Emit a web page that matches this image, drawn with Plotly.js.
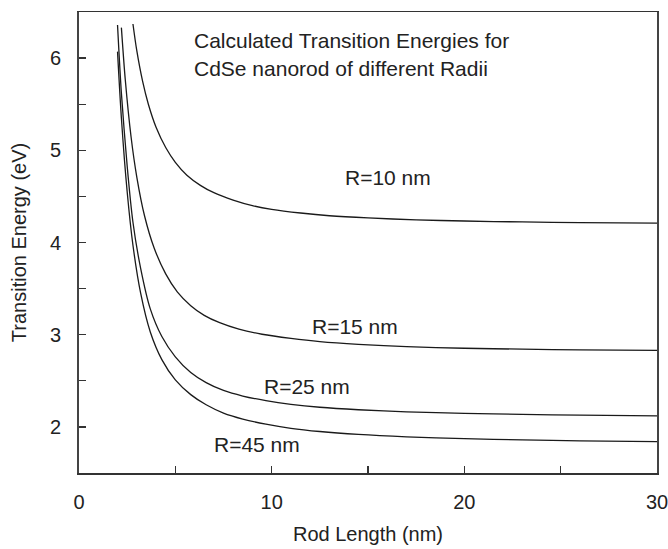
<!DOCTYPE html>
<html>
<head>
<meta charset="utf-8">
<script src="https://cdn.plot.ly/plotly-3.0.1.min.js"></script>
<style>html,body{margin:0;padding:0;background:#fff;}</style>
</head>
<body>
<div id="chart" style="width:668px;height:549px;"></div>
<script>
// Rod length (nm) and transition energy (eV) for each radius
const lenR10 = [2.8, 3.0, 3.3, 3.6, 4.0, 4.5, 5.0, 5.6, 6.3, 7.0, 8.0, 9.0, 10, 11.5, 13, 15, 17.5, 20, 23, 26, 30];
const eR10   = [6.37, 6.08, 5.75, 5.50, 5.25, 5.03, 4.87, 4.73, 4.62, 4.54, 4.46, 4.40, 4.36, 4.32, 4.29, 4.266, 4.246, 4.233, 4.223, 4.216, 4.21];

const lenR15 = [2.2, 2.4, 2.7, 3.0, 3.4, 3.9, 4.5, 5.1, 5.8, 6.5, 7.3, 8.3, 9.5, 11, 12.5, 14.5, 17, 20, 23, 26, 30];
const eR15   = [6.33, 5.77, 5.15, 4.71, 4.29, 3.94, 3.66, 3.465, 3.315, 3.21, 3.13, 3.06, 3.005, 2.96, 2.925, 2.895, 2.87, 2.853, 2.843, 2.836, 2.83];

const lenR25 = [2.0, 2.2, 2.5, 2.8, 3.2, 3.7, 4.3, 5.0, 5.8, 6.6, 7.5, 8.5, 9.7, 11, 12.5, 14.5, 17, 20, 23, 26, 30];
const eR25   = [6.36, 5.62, 4.83, 4.22, 3.72, 3.28, 2.98, 2.76, 2.59, 2.48, 2.395, 2.335, 2.285, 2.245, 2.213, 2.186, 2.163, 2.147, 2.136, 2.127, 2.12];

const lenR45 = [2.0, 2.2, 2.5, 2.8, 3.2, 3.7, 4.3, 5.0, 5.8, 6.6, 7.5, 8.5, 9.7, 11, 12.5, 14.5, 17, 20, 23, 26, 30];
const eR45   = [6.07, 5.35, 4.55, 3.97, 3.45, 3.03, 2.73, 2.51, 2.35, 2.24, 2.15, 2.085, 2.03, 1.985, 1.95, 1.918, 1.892, 1.872, 1.859, 1.849, 1.84];

const xTickVals = [0, 5, 10, 15, 20, 25, 30];
const xTickText = ['0', '', '10', '', '20', '', '30'];
const yTickVals = [2, 2.5, 3, 3.5, 4, 4.5, 5, 5.5, 6];
const yTickText = ['2', '', '3', '', '4', '', '5', '', '6'];

const labels = [
  {text: 'R=10 nm', x: 16.04, y: 4.71},
  {text: 'R=15 nm', x: 14.32, y: 3.087},
  {text: 'R=25 nm', x: 11.82, y: 2.44},
  {text: 'R=45 nm', x: 9.24, y: 1.804}
];
const headLines = ['Calculated Transition Energies for', 'CdSe nanorod of different Radii'];

const FONT = 'Liberation Sans, Arial, Helvetica, sans-serif';
const lineStyle = {color: '#1a1a1a', width: 1.3, shape: 'spline', smoothing: 0.8};

const series = [[lenR10, eR10], [lenR15, eR15], [lenR25, eR25], [lenR45, eR45]];
const traces = series.map(s => ({
  x: s[0], y: s[1], type: 'scatter', mode: 'lines', line: lineStyle, hoverinfo: 'skip'
}));

const annFont = {family: FONT, size: 21, color: '#222'};
const annotations = labels.map(l => ({
  text: l.text, x: l.x, y: l.y, xref: 'x', yref: 'y', showarrow: false,
  xanchor: 'center', yanchor: 'middle', font: annFont
}));
annotations.push({text: headLines[0], x: 5.85, y: 6.196, xref: 'x', yref: 'y', showarrow: false,
  xanchor: 'left', yanchor: 'middle', font: annFont});
annotations.push({text: headLines[1], x: 5.85, y: 5.89, xref: 'x', yref: 'y', showarrow: false,
  xanchor: 'left', yanchor: 'middle', font: annFont});

const layout = {
  width: 668, height: 549,
  margin: {l: 79, r: 11, t: 12, b: 76},
  paper_bgcolor: '#fff', plot_bgcolor: '#fff',
  showlegend: false,
  font: {family: FONT, size: 20, color: '#222'},
  xaxis: {
    range: [0, 30], tickvals: xTickVals, ticktext: xTickText,
    ticks: 'inside', ticklen: 7, tickwidth: 1.3, tickcolor: '#333',
    showline: true, mirror: true, linecolor: '#333', linewidth: 1.5,
    showgrid: false, zeroline: false,
    tickfont: {family: FONT, size: 20, color: '#222'},
    ticklabelstandoff: 10, ticklabeloverflow: 'allow',
    title: {text: 'Rod Length (nm)', font: {family: FONT, size: 20, color: '#222'}, standoff: 15}
  },
  yaxis: {
    range: [1.5, 6.5], tickvals: yTickVals, ticktext: yTickText,
    ticks: 'inside', ticklen: 7, tickwidth: 1.3, tickcolor: '#333',
    showline: true, mirror: true, linecolor: '#444', linewidth: 1.8,
    showgrid: false, zeroline: false,
    tickfont: {family: FONT, size: 20, color: '#222'},
    ticklabelstandoff: 12,
    title: {text: 'Transition Energy (eV)', font: {family: FONT, size: 20, color: '#222'}, standoff: 18}
  },
  annotations: annotations
};

Plotly.newPlot('chart', traces, layout, {staticPlot: true, displayModeBar: false});
</script>
</body>
</html>
